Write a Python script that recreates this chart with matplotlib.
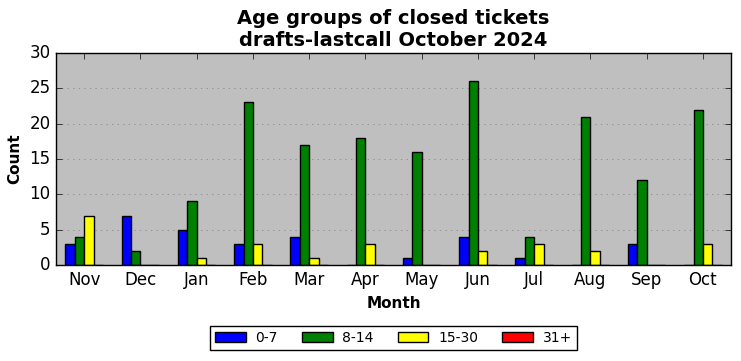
import matplotlib
matplotlib.use("Agg")
import matplotlib.pyplot as plt
import numpy as np

plt.style.use("classic")

months = ["Nov", "Dec", "Jan", "Feb", "Mar", "Apr", "May", "Jun", "Jul", "Aug", "Sep", "Oct"]
series_names = ["0-7", "8-14", "15-30", "31+"]
v0_7 = [3, 7, 5, 3, 4, 0, 1, 4, 1, 0, 3, 0]
v8_14 = [4, 2, 9, 23, 17, 18, 16, 26, 4, 21, 12, 22]
v15_30 = [7, 0, 1, 3, 1, 3, 0, 2, 3, 2, 0, 3]
v31 = [0, 0, 0, 0, 0, 0, 0, 0, 0, 0, 0, 0]
colors = ["blue", "green", "yellow", "red"]

data = [v0_7, v8_14, v15_30, v31]

fig = plt.figure(figsize=(7.41, 3.61), dpi=100)
ax = fig.add_axes([56 / 741, 1 - 265 / 361, (731 - 56) / 741, (265 - 53) / 361])
ax.set_facecolor("#bfbfbf")

x = np.arange(len(months))
w = 1 / 6
for i, (vals, c, name) in enumerate(zip(data, colors, series_names)):
    ax.bar(x + (i - 1.5) * w, vals, width=w, color=c, edgecolor="black",
           linewidth=1, label=name, align="center")

ax.set_xlim(-0.5, len(months) - 0.5)
ax.set_ylim(0, 30)
ax.set_xticks(x)
ax.set_xticklabels(months, fontsize=12)
ax.tick_params(axis="y", labelsize=12)
ax.yaxis.grid(True, linestyle=":", color="gray")
ax.set_axisbelow(True)
ax.set_xlabel("Month", fontsize=11, fontweight="bold")
ax.set_ylabel("Count", fontsize=11, fontweight="bold")
ax.set_title("Age groups of closed tickets\ndrafts-lastcall October 2024",
             fontsize=14, fontweight="bold")
ax.legend(loc="upper center", bbox_to_anchor=(0.5, -0.255), ncol=4,
          fontsize=10, frameon=True, fancybox=False, handlelength=2.2,
          columnspacing=1.75, handletextpad=0.7, borderpad=0.35)

fig.savefig("out.png", dpi=100)
